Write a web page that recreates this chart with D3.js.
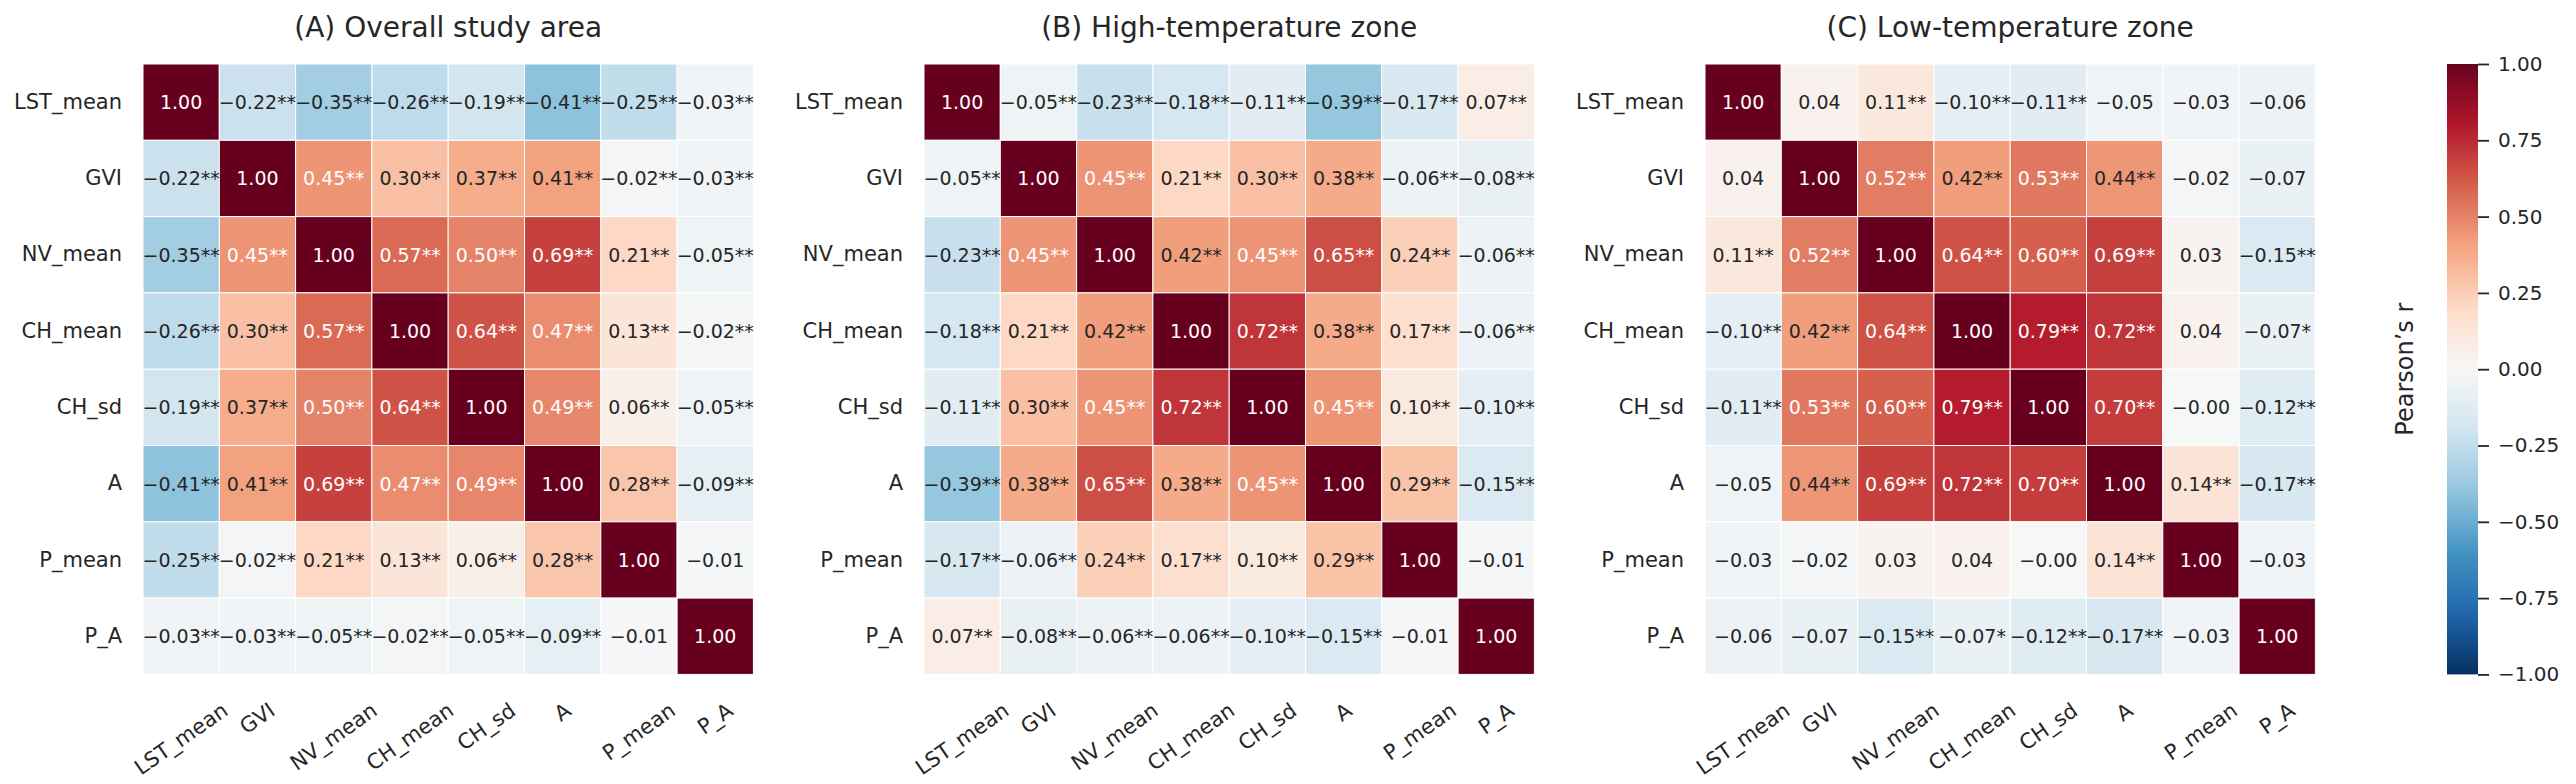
<!DOCTYPE html>
<html lang="en">
  <head>
    <meta charset="utf-8">
    <title>Correlation heatmaps</title>
    <script src="https://cdn.jsdelivr.net/npm/d3@7"></script>
    <style>
      body { margin: 0; background: white; }
      text { font-family: "DejaVu Sans", sans-serif; fill: #262626; }
    </style>
  </head>
  <body>
    <script>
    // variables, same order on both axes
    var vars = ["LST_mean", "GVI", "NV_mean", "CH_mean", "CH_sd", "A", "P_mean", "P_A"];

    var titles = ["(A) Overall study area", "(B) High-temperature zone", "(C) Low-temperature zone"];

    // Pearson's r, overall study area
    var rOverall = [
      [ 1.00, -0.22, -0.35, -0.26, -0.19, -0.41, -0.25, -0.03],
      [-0.22,  1.00,  0.45,  0.30,  0.37,  0.41, -0.02, -0.03],
      [-0.35,  0.45,  1.00,  0.57,  0.50,  0.69,  0.21, -0.05],
      [-0.26,  0.30,  0.57,  1.00,  0.64,  0.47,  0.13, -0.02],
      [-0.19,  0.37,  0.50,  0.64,  1.00,  0.49,  0.06, -0.05],
      [-0.41,  0.41,  0.69,  0.47,  0.49,  1.00,  0.28, -0.09],
      [-0.25, -0.02,  0.21,  0.13,  0.06,  0.28,  1.00, -0.01],
      [-0.03, -0.03, -0.05, -0.02, -0.05, -0.09, -0.01,  1.00]
    ];
    // number of stars (significance) per cell
    var sOverall = [
      [0,2,2,2,2,2,2,2],
      [2,0,2,2,2,2,2,2],
      [2,2,0,2,2,2,2,2],
      [2,2,2,0,2,2,2,2],
      [2,2,2,2,0,2,2,2],
      [2,2,2,2,2,0,2,2],
      [2,2,2,2,2,2,0,0],
      [2,2,2,2,2,2,0,0]
    ];

    // high-temperature zone
    var rHigh = [
      [ 1.00, -0.05, -0.23, -0.18, -0.11, -0.39, -0.17,  0.07],
      [-0.05,  1.00,  0.45,  0.21,  0.30,  0.38, -0.06, -0.08],
      [-0.23,  0.45,  1.00,  0.42,  0.45,  0.65,  0.24, -0.06],
      [-0.18,  0.21,  0.42,  1.00,  0.72,  0.38,  0.17, -0.06],
      [-0.11,  0.30,  0.45,  0.72,  1.00,  0.45,  0.10, -0.10],
      [-0.39,  0.38,  0.65,  0.38,  0.45,  1.00,  0.29, -0.15],
      [-0.17, -0.06,  0.24,  0.17,  0.10,  0.29,  1.00, -0.01],
      [ 0.07, -0.08, -0.06, -0.06, -0.10, -0.15, -0.01,  1.00]
    ];
    var sHigh = [
      [0,2,2,2,2,2,2,2],
      [2,0,2,2,2,2,2,2],
      [2,2,0,2,2,2,2,2],
      [2,2,2,0,2,2,2,2],
      [2,2,2,2,0,2,2,2],
      [2,2,2,2,2,0,2,2],
      [2,2,2,2,2,2,0,0],
      [2,2,2,2,2,2,0,0]
    ];

    // low-temperature zone
    var rLow = [
      [ 1.00,  0.04,  0.11, -0.10, -0.11, -0.05, -0.03, -0.06],
      [ 0.04,  1.00,  0.52,  0.42,  0.53,  0.44, -0.02, -0.07],
      [ 0.11,  0.52,  1.00,  0.64,  0.60,  0.69,  0.03, -0.15],
      [-0.10,  0.42,  0.64,  1.00,  0.79,  0.72,  0.04, -0.07],
      [-0.11,  0.53,  0.60,  0.79,  1.00,  0.70, -0.004, -0.12],
      [-0.05,  0.44,  0.69,  0.72,  0.70,  1.00,  0.14, -0.17],
      [-0.03, -0.02,  0.03,  0.04, -0.004, 0.14,  1.00, -0.03],
      [-0.06, -0.07, -0.15, -0.07, -0.12, -0.17, -0.03,  1.00]
    ];
    var sLow = [
      [0,0,2,2,2,0,0,0],
      [0,0,2,2,2,2,0,0],
      [2,2,0,2,2,2,0,2],
      [2,2,2,0,2,2,0,1],
      [2,2,2,2,0,2,0,2],
      [0,2,2,2,2,0,2,2],
      [0,0,0,0,0,2,0,0],
      [0,0,2,1,2,2,0,0]
    ];

    var cbarTicks = [-1, -0.75, -0.5, -0.25, 0, 0.25, 0.5, 0.75, 1];

    var panels = [
      {title: titles[0], r: rOverall, s: sOverall},
      {title: titles[1], r: rHigh, s: sHigh},
      {title: titles[2], r: rLow, s: sLow}
    ];

    // layout
    var w = 2576, h = 784;
    var cell = 76.3;
    var size = cell * vars.length;
    var marginTop = 64;
    var lefts = [143, 924, 1705];
    var rot = 35;

    // RdBu_r, same anchors as matplotlib's table
    var rdbu = ["#053061", "#2166ac", "#4393c3", "#92c5de", "#d1e5f0", "#f7f7f7",
                "#fddbc7", "#f4a582", "#d6604d", "#b2182b", "#67001f"];
    var color = d3.scaleLinear()
                  .domain(d3.range(11).map(function(i) { return -1 + i * 0.2; }))
                  .range(rdbu)
                  .interpolate(d3.interpolateRgb)
                  .clamp(true);

    // same rule as seaborn for the annotation colour
    var luminance = function(c) {
      var rgb = d3.rgb(c);
      var f = function(v) {
        v = v / 255;
        return v <= 0.03928 ? v / 12.92 : Math.pow((v + 0.055) / 1.055, 2.4);
      };
      return 0.2126 * f(rgb.r) + 0.7152 * f(rgb.g) + 0.0722 * f(rgb.b);
    };

    var fmt = function(v) {
      return (v < 0 ? "\u2212" : "") + Math.abs(v).toFixed(2);
    };

    var svg = d3.select("body")
                .append("svg")
                .attr("width", w)
                .attr("height", h);

    var x = d3.scaleBand().domain(vars).range([0, size]);
    var y = d3.scaleBand().domain(vars).range([0, size]);

    panels.forEach(function(p, k) {
      var g = svg.append("g")
                 .attr("transform", "translate(" + lefts[k] + "," + marginTop + ")");

      var cells = [];
      p.r.forEach(function(row, i) {
        row.forEach(function(v, j) {
          cells.push({row: vars[i], col: vars[j], v: v, stars: p.s[i][j]});
        });
      });

      g.selectAll("rect")
       .data(cells)
       .enter()
       .append("rect")
       .attr("x", function(d) { return x(d.col); })
       .attr("y", function(d) { return y(d.row); })
       .attr("width", x.bandwidth())
       .attr("height", y.bandwidth())
       .attr("fill", function(d) { return color(d.v); })
       .attr("stroke", "white")
       .attr("stroke-width", 1);

      g.selectAll("text.annot")
       .data(cells)
       .enter()
       .append("text")
       .attr("class", "annot")
       .attr("x", function(d) { return x(d.col) + x.bandwidth() / 2; })
       .attr("y", function(d) { return y(d.row) + y.bandwidth() / 2; })
       .attr("text-anchor", "middle")
       .attr("dominant-baseline", "central")
       .attr("font-size", 19)
       .style("fill", function(d) { return luminance(color(d.v)) < 0.408 ? "white" : "#262626"; })
       .text(function(d) { return fmt(d.v) + "*".repeat(d.stars); });

      // title
      g.append("text")
       .attr("x", size / 2)
       .attr("y", 37 - marginTop)
       .attr("text-anchor", "middle")
       .attr("font-size", 28)
       .text(p.title);

      // y axis
      var yAxis = g.append("g")
                   .call(d3.axisLeft(y).tickSize(0).tickPadding(21));
      yAxis.select(".domain").remove();
      yAxis.selectAll("text")
           .attr("font-size", 21)
           .attr("font-family", "DejaVu Sans")
           .style("fill", "#262626");

      // x axis, labels rotated and centred under each column
      var xAxis = g.append("g")
                   .attr("transform", "translate(0," + size + ")")
                   .call(d3.axisBottom(x).tickSize(0));
      xAxis.select(".domain").remove();
      var a = rot * Math.PI / 180;
      xAxis.selectAll("text")
           .attr("font-size", 21)
           .attr("font-family", "DejaVu Sans")
           .style("fill", "#262626")
           .attr("text-anchor", "middle")
           .attr("dominant-baseline", "central")
           .attr("y", 0)
           .attr("dy", 0)
           .attr("transform", function() {
             var L = this.getComputedTextLength();
             var bh = L * Math.sin(a) + 21 * Math.cos(a);
             return "translate(0," + (25 + bh / 2) + ") rotate(" + (-rot) + ")";
           });
    });

    // colorbar
    var cbX = 2447, cbW = 31;
    var cbY = d3.scaleLinear().domain([-1, 1]).range([size, 0]);

    var grad = svg.append("defs")
                  .append("linearGradient")
                  .attr("id", "cbgrad")
                  .attr("x1", 0).attr("y1", 1)
                  .attr("x2", 0).attr("y2", 0);
    grad.selectAll("stop")
        .data(d3.range(0, 1.0001, 0.02))
        .enter()
        .append("stop")
        .attr("offset", function(t) { return t; })
        .attr("stop-color", function(t) { return color(-1 + 2 * t); });

    var cb = svg.append("g")
                .attr("transform", "translate(" + cbX + "," + marginTop + ")");
    cb.append("rect")
      .attr("width", cbW)
      .attr("height", size)
      .attr("fill", "url(#cbgrad)");

    var cbAxis = cb.append("g")
                   .attr("transform", "translate(" + cbW + ",0)")
                   .call(d3.axisRight(cbY)
                           .tickValues(cbarTicks)
                           .tickSize(11)
                           .tickPadding(9)
                           .tickFormat(fmt));
    cbAxis.select(".domain").remove();
    cbAxis.selectAll("line")
          .attr("stroke", "#262626")
          .attr("stroke-width", 1.8);
    cbAxis.selectAll("text")
          .attr("font-size", 20)
          .attr("font-family", "DejaVu Sans")
          .style("fill", "#262626");

    cb.append("text")
      .attr("transform", "translate(" + (2405 - cbX) + "," + (size / 2) + ") rotate(-90)")
      .attr("text-anchor", "middle")
      .attr("dominant-baseline", "central")
      .attr("font-size", 24)
      .text("Pearson\u2019s r");
    </script>
  </body>
</html>
